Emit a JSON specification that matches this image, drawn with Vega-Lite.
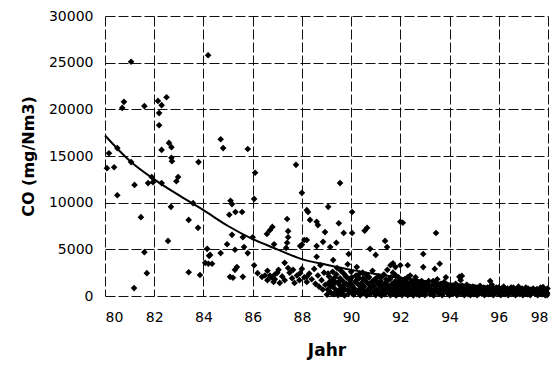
{
"$schema": "https://vega.github.io/schema/vega-lite/v6.json",
"autosize": "none",
"width": 443,
"height": 280,
"padding": {"left": 105, "top": 16, "right": 6, "bottom": 73},
"config": {"view": {"stroke": null}, "font": "DejaVu Sans"},
"datasets": {
"pts": [
{"jahr":81.06,"co":25100},{"jahr":84.19,"co":25800},{"jahr":80.77,"co":20800},{"jahr":80.7,"co":20150},{"jahr":81.6,"co":20350},{"jahr":82.15,"co":20900},{"jahr":82.3,"co":20450},{"jahr":82.5,"co":21300},{"jahr":82.2,"co":19600},{"jahr":82.2,"co":18300},{"jahr":82.6,"co":16400},{"jahr":82.7,"co":15950},{"jahr":82.3,"co":15650},{"jahr":80.16,"co":15300},{"jahr":80.5,"co":15850},{"jahr":82.7,"co":14800},
{"jahr":80.08,"co":13700},{"jahr":80.37,"co":13800},{"jahr":81.06,"co":14350},{"jahr":82.72,"co":14450},{"jahr":83.8,"co":14350},{"jahr":81.9,"co":12750},{"jahr":81.75,"co":12100},{"jahr":81.95,"co":12200},{"jahr":82.3,"co":12100},{"jahr":81.2,"co":11900},{"jahr":82.97,"co":12750},{"jahr":82.9,"co":12300},{"jahr":80.5,"co":10800},{"jahr":83.58,"co":9950},{"jahr":82.68,"co":9550},{"jahr":81.46,"co":8450},{"jahr":83.4,"co":8150},{"jahr":83.78,"co":7300},{"jahr":82.56,"co":5900},{"jahr":84.15,"co":5050},{"jahr":84.27,"co":4400},{"jahr":81.6,"co":4700},{"jahr":84.07,"co":3550},{"jahr":84.2,"co":3450},{"jahr":81.7,"co":2450},{"jahr":83.4,"co":2550},{"jahr":83.86,"co":2250},{"jahr":81.18,"co":850},
{"jahr":84.7,"co":16800},{"jahr":84.8,"co":15850},{"jahr":85.8,"co":15750},
{"jahr":87.76,"co":14050},{"jahr":86.1,"co":13200},{"jahr":88.0,"co":11050},{"jahr":85.1,"co":10200},{"jahr":85.16,"co":9850},{"jahr":86.06,"co":10400},{"jahr":85.3,"co":9000},{"jahr":85.05,"co":8700},{"jahr":85.57,"co":9000},{"jahr":87.4,"co":8250},{"jahr":88.2,"co":9200},{"jahr":86.7,"co":7050},{"jahr":86.8,"co":7400},{"jahr":86.58,"co":6650},{"jahr":87.44,"co":6950},{"jahr":87.44,"co":6300},{"jahr":87.4,"co":5700},{"jahr":87.36,"co":5150},{"jahr":86.0,"co":6300},{"jahr":85.6,"co":6300},{"jahr":85.16,"co":6550},{"jahr":84.96,"co":5550},{"jahr":85.65,"co":5250},{"jahr":85.8,"co":4600},{"jahr":85.28,"co":4950},{"jahr":84.23,"co":4300},{"jahr":84.7,"co":4600},{"jahr":84.35,"co":3450},{"jahr":86.87,"co":5550},{"jahr":87.93,"co":5350},{"jahr":88.2,"co":6000},{"jahr":85.36,"co":3100},{"jahr":85.28,"co":2800},{"jahr":85.2,"co":1950},{"jahr":85.08,"co":2050},{"jahr":85.6,"co":2050},{"jahr":86.06,"co":3300},{"jahr":86.2,"co":2450},{"jahr":86.38,"co":2050},{"jahr":86.6,"co":2700},{"jahr":86.7,"co":2200},{"jahr":86.9,"co":1800},{"jahr":87.0,"co":2500},{"jahr":87.3,"co":3550},{"jahr":87.44,"co":3000},{"jahr":87.64,"co":2800},{"jahr":87.93,"co":2450},{"jahr":88.2,"co":2050},
{"jahr":89.55,"co":12100},{"jahr":89.07,"co":9550},{"jahr":88.25,"co":9000},{"jahr":90.04,"co":9000},{"jahr":88.33,"co":8150},{"jahr":88.6,"co":7950},{"jahr":88.65,"co":7600},{"jahr":89.5,"co":7800},{"jahr":92.0,"co":7950},{"jahr":92.1,"co":7850},{"jahr":88.94,"co":6850},{"jahr":89.7,"co":6750},{"jahr":90.04,"co":6750},{"jahr":90.65,"co":7300},{"jahr":90.55,"co":7000},{"jahr":88.1,"co":6000},{"jahr":88.0,"co":5500},{"jahr":88.86,"co":5800},{"jahr":88.6,"co":5350},{"jahr":89.15,"co":5250},{"jahr":89.4,"co":5700},{"jahr":91.38,"co":5900},{"jahr":91.46,"co":5250},{"jahr":90.77,"co":5050},{"jahr":91.0,"co":4400},{"jahr":89.9,"co":4500},{"jahr":88.6,"co":4200},{"jahr":92.0,"co":3300},{"jahr":91.6,"co":3300},{"jahr":91.7,"co":3500},{"jahr":91.8,"co":3100},{"jahr":89.27,"co":3850},
{"jahr":93.45,"co":6750},{"jahr":92.93,"co":4500},{"jahr":92.93,"co":3100},{"jahr":93.4,"co":2900},{"jahr":93.6,"co":3450},{"jahr":92.3,"co":3300},{"jahr":94.5,"co":2150},{"jahr":94.4,"co":2050},{"jahr":95.65,"co":1600},{"jahr":97.8,"co":950},
{"jahr":86.5,"co":2200},{"jahr":86.6,"co":1700},{"jahr":86.75,"co":2000},{"jahr":86.85,"co":1500},{"jahr":86.9,"co":2300},{"jahr":87.05,"co":2800},{"jahr":87.1,"co":1400},{"jahr":87.2,"co":2100},{"jahr":87.3,"co":1700},{"jahr":87.5,"co":2500},{"jahr":87.6,"co":1900},{"jahr":87.7,"co":1400},{"jahr":87.8,"co":2200},{"jahr":87.9,"co":1700},{"jahr":88.0,"co":2900},{"jahr":88.1,"co":2000},{"jahr":88.2,"co":1500},{"jahr":88.3,"co":2400},{"jahr":88.4,"co":1800},{"jahr":88.5,"co":2900},{"jahr":88.55,"co":1300},{"jahr":88.65,"co":2200},{"jahr":88.75,"co":3300},{"jahr":88.8,"co":1700},{"jahr":88.9,"co":2500},{"jahr":88.95,"co":1200},{"jahr":88.7,"co":1000},{"jahr":88.85,"co":700},
{"jahr":89.02,"co":150},{"jahr":89.05,"co":700},{"jahr":89.08,"co":1300},{"jahr":89.1,"co":2100},{"jahr":89.15,"co":400},{"jahr":89.18,"co":1000},{"jahr":89.22,"co":1700},{"jahr":89.25,"co":2600},{"jahr":89.3,"co":200},{"jahr":89.33,"co":800},{"jahr":89.36,"co":1500},{"jahr":89.4,"co":2300},{"jahr":89.43,"co":3000},{"jahr":89.47,"co":100},{"jahr":89.5,"co":600},{"jahr":89.52,"co":1200},{"jahr":89.55,"co":1900},
{"jahr":89.6,"co":300},{"jahr":89.63,"co":900},{"jahr":89.66,"co":1600},{"jahr":89.7,"co":2400},{"jahr":89.73,"co":50},{"jahr":89.76,"co":700},{"jahr":89.8,"co":1300},{"jahr":89.83,"co":2000},{"jahr":89.86,"co":3400},{"jahr":89.9,"co":250},{"jahr":89.93,"co":1000},{"jahr":89.96,"co":1700},{"jahr":90.0,"co":2600},{"jahr":90.02,"co":500},{"jahr":90.05,"co":1100},
{"jahr":90.1,"co":150},{"jahr":90.13,"co":800},{"jahr":90.16,"co":1500},{"jahr":90.2,"co":2200},{"jahr":90.23,"co":3100},{"jahr":90.27,"co":400},{"jahr":90.3,"co":1200},{"jahr":90.33,"co":1900},{"jahr":90.37,"co":100},{"jahr":90.4,"co":700},{"jahr":90.43,"co":1400},{"jahr":90.47,"co":2500},{"jahr":90.5,"co":300},{"jahr":90.53,"co":1000},{"jahr":90.57,"co":1700},{"jahr":90.6,"co":2300},{"jahr":90.63,"co":50},{"jahr":90.67,"co":600},{"jahr":90.7,"co":1300},{"jahr":90.73,"co":2000},{"jahr":90.77,"co":200},{"jahr":90.8,"co":900},{"jahr":90.83,"co":1500},{"jahr":90.87,"co":2700},{"jahr":90.9,"co":400},{"jahr":90.93,"co":1100},{"jahr":90.97,"co":1800},
{"jahr":91.0,"co":100},{"jahr":91.03,"co":700},{"jahr":91.07,"co":1400},{"jahr":91.1,"co":2100},{"jahr":91.13,"co":300},{"jahr":91.17,"co":1000},{"jahr":91.2,"co":1600},{"jahr":91.23,"co":50},{"jahr":91.27,"co":600},{"jahr":91.3,"co":1200},{"jahr":91.33,"co":2300},{"jahr":91.37,"co":200},{"jahr":91.4,"co":800},{"jahr":91.43,"co":1500},{"jahr":91.47,"co":2800},{"jahr":91.5,"co":400},{"jahr":91.53,"co":1000},{"jahr":91.57,"co":1800},{"jahr":91.6,"co":100},{"jahr":91.63,"co":700},{"jahr":91.67,"co":1300},{"jahr":91.7,"co":2500},{"jahr":91.73,"co":300},{"jahr":91.77,"co":900},{"jahr":91.8,"co":1600},{"jahr":91.83,"co":50},{"jahr":91.87,"co":600},{"jahr":91.9,"co":1200},{"jahr":91.93,"co":2000},{"jahr":91.97,"co":250},
{"jahr":92.0,"co":800},{"jahr":92.03,"co":1400},{"jahr":92.07,"co":100},{"jahr":92.1,"co":600},{"jahr":92.13,"co":1100},{"jahr":92.17,"co":1800},{"jahr":92.2,"co":300},{"jahr":92.23,"co":900},{"jahr":92.27,"co":1500},{"jahr":92.3,"co":100},{"jahr":92.33,"co":600},{"jahr":92.37,"co":1200},{"jahr":92.4,"co":2200},{"jahr":92.43,"co":300},{"jahr":92.47,"co":800},{"jahr":92.5,"co":1400},{"jahr":92.53,"co":50},{"jahr":92.57,"co":600},{"jahr":92.6,"co":1100},{"jahr":92.63,"co":1700},{"jahr":92.67,"co":200},{"jahr":92.7,"co":700},{"jahr":92.73,"co":1300},{"jahr":92.77,"co":100},{"jahr":92.8,"co":500},{"jahr":92.83,"co":1000},{"jahr":92.87,"co":1600},{"jahr":92.9,"co":250},{"jahr":92.93,"co":800},{"jahr":92.97,"co":1300},
{"jahr":93.0,"co":100},{"jahr":93.05,"co":500},{"jahr":93.1,"co":1000},{"jahr":93.15,"co":1600},{"jahr":93.2,"co":200},{"jahr":93.25,"co":700},{"jahr":93.3,"co":1200},{"jahr":93.35,"co":50},{"jahr":93.4,"co":500},{"jahr":93.45,"co":1000},{"jahr":93.5,"co":1800},{"jahr":93.55,"co":250},{"jahr":93.6,"co":700},{"jahr":93.65,"co":1300},{"jahr":93.7,"co":100},{"jahr":93.75,"co":500},{"jahr":93.8,"co":1000},{"jahr":93.85,"co":2000},{"jahr":93.9,"co":300},{"jahr":93.95,"co":800},
{"jahr":94.0,"co":100},{"jahr":94.05,"co":500},{"jahr":94.1,"co":1100},{"jahr":94.15,"co":250},{"jahr":94.2,"co":700},{"jahr":94.25,"co":1300},{"jahr":94.3,"co":100},{"jahr":94.35,"co":500},{"jahr":94.4,"co":1000},{"jahr":94.45,"co":1700},{"jahr":94.5,"co":300},{"jahr":94.55,"co":800},{"jahr":94.6,"co":100},{"jahr":94.65,"co":500},{"jahr":94.7,"co":1200},{"jahr":94.75,"co":200},{"jahr":94.8,"co":700},{"jahr":94.85,"co":100},{"jahr":94.9,"co":500},{"jahr":94.95,"co":1000},
{"jahr":95.0,"co":200},{"jahr":95.06,"co":600},{"jahr":95.12,"co":100},{"jahr":95.18,"co":500},{"jahr":95.24,"co":1100},{"jahr":95.3,"co":250},{"jahr":95.36,"co":700},{"jahr":95.42,"co":100},{"jahr":95.48,"co":500},{"jahr":95.54,"co":900},{"jahr":95.6,"co":200},{"jahr":95.66,"co":600},{"jahr":95.72,"co":1200},{"jahr":95.78,"co":100},{"jahr":95.84,"co":500},{"jahr":95.9,"co":900},{"jahr":95.96,"co":250},
{"jahr":96.02,"co":600},{"jahr":96.08,"co":100},{"jahr":96.14,"co":500},{"jahr":96.2,"co":1000},{"jahr":96.26,"co":200},{"jahr":96.32,"co":600},{"jahr":96.38,"co":100},{"jahr":96.44,"co":500},{"jahr":96.5,"co":900},{"jahr":96.56,"co":250},{"jahr":96.62,"co":600},{"jahr":96.68,"co":100},{"jahr":96.74,"co":500},{"jahr":96.8,"co":1000},{"jahr":96.86,"co":200},{"jahr":96.92,"co":600},{"jahr":96.98,"co":100},
{"jahr":97.04,"co":500},{"jahr":97.1,"co":900},{"jahr":97.16,"co":200},{"jahr":97.22,"co":600},{"jahr":97.28,"co":100},{"jahr":97.34,"co":500},{"jahr":97.4,"co":800},{"jahr":97.46,"co":250},{"jahr":97.52,"co":600},{"jahr":97.58,"co":100},{"jahr":97.64,"co":500},{"jahr":97.7,"co":900},{"jahr":97.76,"co":200},{"jahr":97.82,"co":550},{"jahr":97.88,"co":100},{"jahr":97.94,"co":400},{"jahr":97.98,"co":800},{"jahr":97.96,"co":100},
{"jahr":89.06,"co":2400},{"jahr":89.12,"co":1500},{"jahr":89.2,"co":300},{"jahr":89.27,"co":1200},{"jahr":89.34,"co":2000},{"jahr":89.41,"co":500},{"jahr":89.48,"co":1500},{"jahr":89.58,"co":2700},{"jahr":89.64,"co":450},{"jahr":89.72,"co":1200},{"jahr":89.79,"co":2100},{"jahr":89.88,"co":600},{"jahr":89.95,"co":1400},{"jahr":90.03,"co":2000},{"jahr":90.08,"co":900},{"jahr":90.15,"co":300},{"jahr":90.22,"co":1700},{"jahr":90.29,"co":600},{"jahr":90.35,"co":2400},{"jahr":90.42,"co":1000},{"jahr":90.49,"co":1900},{"jahr":90.55,"co":500},{"jahr":90.62,"co":1500},{"jahr":90.69,"co":2100},{"jahr":90.75,"co":800},{"jahr":90.82,"co":300},{"jahr":90.89,"co":1600},{"jahr":90.95,"co":600},
{"jahr":91.02,"co":1900},{"jahr":91.09,"co":500},{"jahr":91.15,"co":1300},{"jahr":91.22,"co":2000},{"jahr":91.29,"co":900},{"jahr":91.35,"co":400},{"jahr":91.42,"co":1800},{"jahr":91.49,"co":1100},{"jahr":91.55,"co":600},{"jahr":91.62,"co":2000},{"jahr":91.69,"co":400},{"jahr":91.75,"co":1300},{"jahr":91.82,"co":2200},{"jahr":91.89,"co":900},{"jahr":91.95,"co":1600},
{"jahr":92.02,"co":400},{"jahr":92.09,"co":1700},{"jahr":92.15,"co":600},{"jahr":92.22,"co":1300},{"jahr":92.29,"co":2000},{"jahr":92.35,"co":800},{"jahr":92.42,"co":1500},{"jahr":92.49,"co":400},{"jahr":92.55,"co":1000},{"jahr":92.62,"co":2000},{"jahr":92.69,"co":1200},{"jahr":92.75,"co":500},{"jahr":92.82,"co":1500},{"jahr":92.89,"co":1000},{"jahr":92.95,"co":400},
{"jahr":93.03,"co":1300},{"jahr":93.12,"co":700},{"jahr":93.18,"co":1100},{"jahr":93.27,"co":400},{"jahr":93.33,"co":1600},{"jahr":93.42,"co":800},{"jahr":93.48,"co":1300},{"jahr":93.57,"co":500},{"jahr":93.62,"co":1100},{"jahr":93.72,"co":700},{"jahr":93.78,"co":1500},{"jahr":93.88,"co":500},{"jahr":93.92,"co":1200},
{"jahr":94.02,"co":700},{"jahr":94.08,"co":300},{"jahr":94.12,"co":900},{"jahr":94.22,"co":400},{"jahr":94.28,"co":1000},{"jahr":94.38,"co":700},{"jahr":94.42,"co":300},{"jahr":94.52,"co":1100},{"jahr":94.58,"co":500},{"jahr":94.68,"co":800},{"jahr":94.72,"co":300},{"jahr":94.82,"co":1000},{"jahr":94.88,"co":300},{"jahr":94.92,"co":700},
{"jahr":95.03,"co":900},{"jahr":95.09,"co":400},{"jahr":95.15,"co":800},{"jahr":95.21,"co":300},{"jahr":95.27,"co":700},{"jahr":95.33,"co":400},{"jahr":95.39,"co":900},{"jahr":95.45,"co":300},{"jahr":95.51,"co":700},{"jahr":95.57,"co":400},{"jahr":95.63,"co":900},{"jahr":95.69,"co":300},{"jahr":95.75,"co":700},{"jahr":95.81,"co":300},{"jahr":95.87,"co":700},{"jahr":95.93,"co":500},{"jahr":95.99,"co":900},
{"jahr":96.05,"co":350},{"jahr":96.11,"co":800},{"jahr":96.17,"co":300},{"jahr":96.23,"co":700},{"jahr":96.29,"co":400},{"jahr":96.35,"co":800},{"jahr":96.41,"co":300},{"jahr":96.47,"co":700},{"jahr":96.53,"co":400},{"jahr":96.59,"co":900},{"jahr":96.65,"co":350},{"jahr":96.71,"co":750},{"jahr":96.77,"co":300},{"jahr":96.83,"co":700},{"jahr":96.89,"co":400},{"jahr":96.95,"co":800},
{"jahr":97.01,"co":300},{"jahr":97.07,"co":650},{"jahr":97.13,"co":400},{"jahr":97.19,"co":800},{"jahr":97.25,"co":300},{"jahr":97.31,"co":700},{"jahr":97.37,"co":350},{"jahr":97.43,"co":600},{"jahr":97.49,"co":300},{"jahr":97.55,"co":750},{"jahr":97.61,"co":350},{"jahr":97.67,"co":650},{"jahr":97.73,"co":300},{"jahr":97.79,"co":700},{"jahr":97.85,"co":350},{"jahr":97.91,"co":650},{"jahr":97.97,"co":300}
],
"trend": [
{"jahr":80,"co":17200},{"jahr":81,"co":14500},{"jahr":82,"co":12500},{"jahr":83,"co":10800},{"jahr":84,"co":9200},{"jahr":85,"co":7500},{"jahr":86,"co":6100},{"jahr":87,"co":5000},{"jahr":88,"co":3950},{"jahr":89,"co":3350},{"jahr":90,"co":2800},{"jahr":91,"co":2350},{"jahr":92,"co":1950},{"jahr":93,"co":1620},{"jahr":94,"co":1350},{"jahr":95,"co":1120},{"jahr":96,"co":930},{"jahr":97,"co":780},{"jahr":98,"co":650}
]
},
"encoding": {
"x": {"field": "jahr", "type": "quantitative",
"scale": {"domain": [80, 98], "nice": false, "zero": false},
"axis": {"values": [80,82,84,86,88,90,92,94,96,98], "title": "Jahr", "domain": false, "ticks": false,
"grid": true, "gridColor": "#111", "gridDash": [10, 3], "gridWidth": 1,
"labelFont": "DejaVu Sans", "labelFontSize": 14, "labelColor": "#000", "labelPadding": 14,
"titleFont": "DejaVu Sans", "titleFontSize": 17, "titleFontWeight": "bold", "titleColor": "#000", "titlePadding": 18}},
"y": {"field": "co", "type": "quantitative",
"scale": {"domain": [0, 30000], "nice": false},
"axis": {"values": [0,5000,10000,15000,20000,25000,30000], "format": "d", "title": "CO (mg/Nm3)", "domain": false, "ticks": false,
"grid": true, "gridColor": "#111", "gridDash": [10, 3], "gridWidth": 1,
"labelFont": "DejaVu Sans", "labelFontSize": 14, "labelColor": "#000", "labelPadding": 12,
"titleFont": "DejaVu Sans", "titleFontSize": 16, "titleFontWeight": "bold", "titleColor": "#000", "titlePadding": 12}}
},
"layer": [
{"data": {"name": "pts"}, "mark": {"type": "point", "shape": "diamond", "filled": true, "color": "#000", "size": 44, "opacity": 1}},
{"data": {"name": "trend"}, "mark": {"type": "line", "color": "#000", "strokeWidth": 2, "interpolate": "monotone"}}
]
}
